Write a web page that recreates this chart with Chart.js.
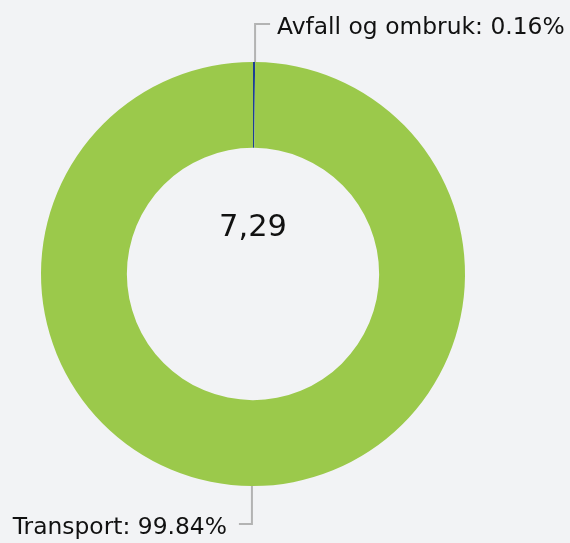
<!DOCTYPE html>
<html>
<head>
<meta charset="utf-8">
<script src="https://cdn.jsdelivr.net/npm/chart.js@4/dist/chart.umd.min.js"></script>
<style>
    html, body { margin: 0; padding: 0; background: #f2f3f5; }
    #wrap { width: 570px; height: 543px; position: relative; }
</style>
</head>
<body>
<div id="wrap"><canvas id="sectorChart"></canvas></div>
<script>
const categories = ['Avfall og ombruk', 'Transport'];
const shares = [0.16, 99.84];
const sliceColors = ['#1c3f94', '#9bc94b'];
const totalLabel = '7,29';

// tegner ledelinjer + etiketter utenfor ringen
const leaderLabels = {
    id: 'leaderLabels',
    afterDatasetsDraw(chart) {
        const ctx = chart.ctx;
        const meta = chart.getDatasetMeta(0);
        ctx.save();
        ctx.font = '23.4px "DejaVu Sans", Verdana, sans-serif';
        ctx.fillStyle = '#111';
        ctx.strokeStyle = '#b3b3b3';
        ctx.lineWidth = 2;
        meta.data.forEach((arc, i) => {
            const mid = (arc.startAngle + arc.endAngle) / 2;
            const x0 = arc.x + Math.cos(mid) * arc.outerRadius;
            const y0 = arc.y + Math.sin(mid) * arc.outerRadius;
            const up = y0 < arc.y;
            const y1 = up ? y0 - 38 : y0 + 38;
            const right = x0 >= arc.x;
            const x1 = right ? x0 + 16 : x0 - 13;
            ctx.beginPath();
            ctx.moveTo(x0 + (right ? 1 : 0), y0);
            ctx.lineTo(x0 + (right ? 1 : 0), y1);
            ctx.lineTo(x1, y1);
            ctx.stroke();
            const text = categories[i] + ': ' + shares[i].toFixed(2) + '%';
            ctx.textAlign = right ? 'left' : 'right';
            ctx.textBaseline = 'alphabetic';
            ctx.fillText(text, right ? x1 + 7 : x1 - 12, y1 + 10);
        });
        // tall i midten
        const a = meta.data[0];
        ctx.font = '30.5px "DejaVu Sans", Verdana, sans-serif';
        ctx.textAlign = 'center';
        ctx.fillStyle = '#111';
        ctx.fillText(totalLabel, a.x, a.y - 38);
        ctx.restore();
    }
};

new Chart(document.getElementById('sectorChart').getContext('2d'), {
    type: 'doughnut',
    data: {
        labels: categories,
        datasets: [{
            data: shares,
            backgroundColor: sliceColors,
            borderWidth: 0,
            hoverOffset: 0
        }]
    },
    options: {
        responsive: true,
        maintainAspectRatio: false,
        animation: false,
        cutout: '59.5%',
        layout: { padding: { top: 62, bottom: 57, left: 41, right: 105 } },
        plugins: {
            legend: { display: false },
            tooltip: { enabled: false }
        }
    },
    plugins: [leaderLabels]
});
</script>
</body>
</html>
